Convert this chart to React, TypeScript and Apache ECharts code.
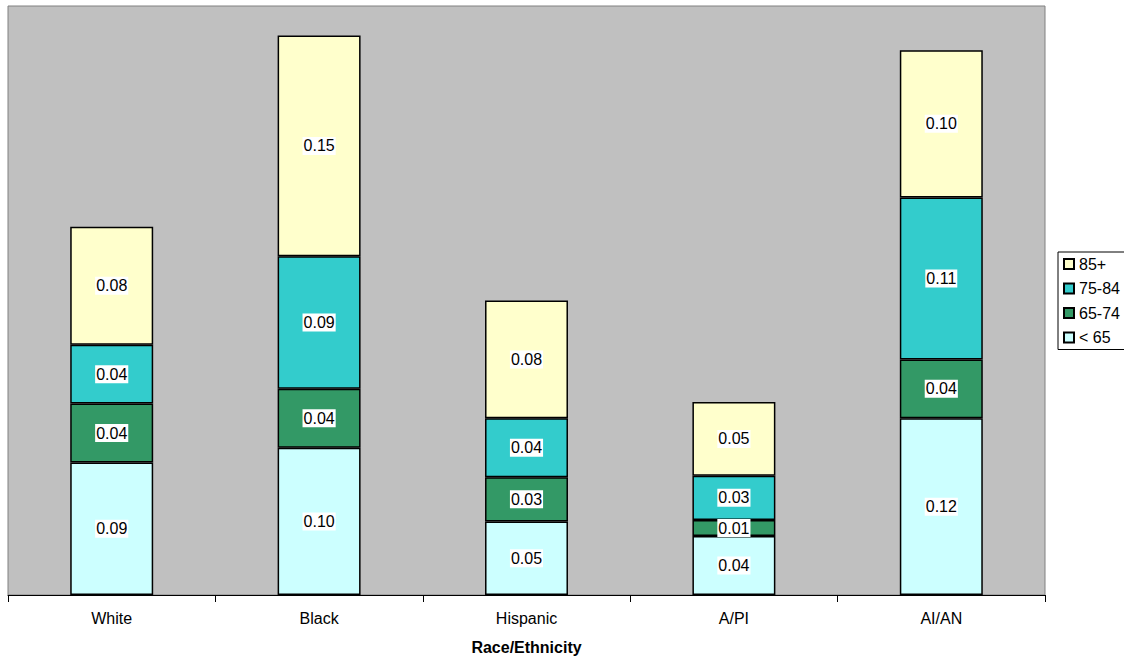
import React, { useEffect, useRef } from "react";
import * as echarts from "echarts";

const categories = ["White", "Black", "Hispanic", "A/PI", "AI/AN"];
const under65 = [0.09, 0.1, 0.05, 0.04, 0.12];
const age65to74 = [0.04, 0.04, 0.03, 0.011, 0.04];
const age75to84 = [0.04, 0.09, 0.04, 0.03, 0.11];
const age85plus = [0.08, 0.15, 0.08, 0.05, 0.1];

const seriesDefs = [
  { name: "< 65", data: under65, color: "#ccffff" },
  { name: "65-74", data: age65to74, color: "#339966" },
  { name: "75-84", data: age75to84, color: "#33cccc" },
  { name: "85+", data: age85plus, color: "#ffffcc" },
];

export default function App() {
  const ref = useRef<HTMLDivElement>(null);
  useEffect(() => {
    if (!ref.current) return;
    const chart = echarts.init(ref.current, undefined, { renderer: "svg" });
    chart.setOption({
      animation: false,
      textStyle: { fontFamily: "Liberation Sans, Arial, sans-serif" },
      grid: {
        left: 8,
        right: 79,
        top: 6,
        bottom: 65,
        outerBoundsMode: "none",
        containLabel: false,
        show: true,
        backgroundColor: "#c0c0c0",
        borderColor: "#808080",
        borderWidth: 1,
      },
      legend: {
        orient: "vertical",
        left: 1058,
        top: 252,
        data: ["85+", "75-84", "65-74", "< 65"],
        icon: "rect",
        itemWidth: 10,
        itemHeight: 10,
        itemGap: 8.5,
        borderColor: "#000",
        borderWidth: 1,
        padding: [4, 6, 4, 5],
        textStyle: { fontSize: 16, color: "#000" },
        selectedMode: false,
      },
      xAxis: {
        type: "category",
        data: categories,
        name: "Race/Ethnicity",
        nameLocation: "middle",
        nameGap: 44,
        nameTextStyle: { fontSize: 16, fontWeight: "bold", color: "#000" },
        axisLine: { lineStyle: { color: "#000", width: 1 } },
        axisTick: { show: true, length: 7, lineStyle: { color: "#000" } },
        axisLabel: { fontSize: 16, color: "#000", margin: 15 },
      },
      yAxis: {
        type: "value",
        min: 0,
        max: 0.4,
        show: false,
        splitLine: { show: false },
      },
      series: seriesDefs.map((s) => ({
        name: s.name,
        type: "bar",
        stack: "total",
        barWidth: "40%",
        data: s.data,
        itemStyle: { color: s.color, borderColor: "#000", borderWidth: 1.5 },
        label: {
          show: true,
          position: "inside",
          color: "#000",
          fontSize: 16,
          backgroundColor: "#fff",
          padding: [1, 1],
          formatter: (p: any) => Number(p.value).toFixed(2),
        },
      })),
    });
    return () => chart.dispose();
  }, []);
  return <div ref={ref} style={{ width: 1124, height: 660, position: "absolute", left: 0, top: 0 }} />;
}
